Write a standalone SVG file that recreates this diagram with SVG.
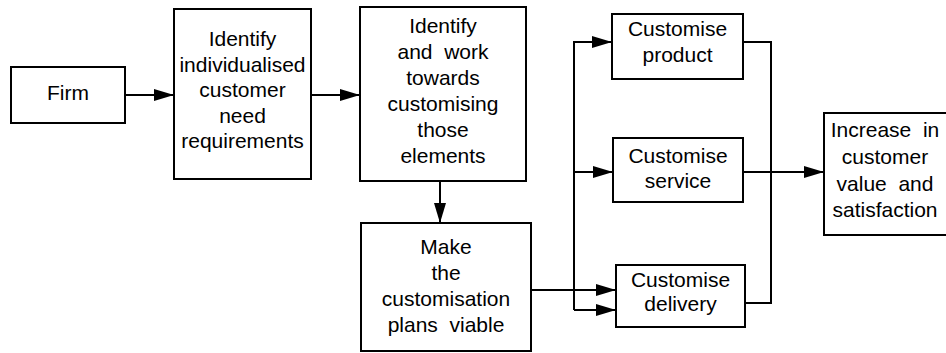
<svg xmlns="http://www.w3.org/2000/svg" width="946" height="353" viewBox="0 0 946 353">
<defs>
<style>
.box{fill:#fff;stroke:#000;stroke-width:2}
.ln{fill:none;stroke:#000;stroke-width:2}
text{font-family:"Liberation Sans",Arial,sans-serif;font-size:21px;fill:#000;text-anchor:middle}
</style>
<marker id="ah" markerUnits="userSpaceOnUse" markerWidth="20" markerHeight="12" refX="20" refY="6" orient="auto">
<path d="M0,0 L20,6 L0,12 z" fill="#000"/>
</marker>
</defs>
<rect width="946" height="353" fill="#fff"/>
<g id="connectors">
<path class="ln" d="M125,95 H174" marker-end="url(#ah)"/>
<path class="ln" d="M311,95 H360" marker-end="url(#ah)"/>
<path class="ln" d="M440,181 V223" marker-end="url(#ah)"/>
<path class="ln" d="M531,290 H616" marker-end="url(#ah)"/>
<path class="ln" d="M574,310 V42 H612" marker-end="url(#ah)"/>
<path class="ln" d="M574,172 H613" marker-end="url(#ah)"/>
<path class="ln" d="M574,310 H616" marker-end="url(#ah)"/>
<path class="ln" d="M743,42 H771 V303 H745"/>
<path class="ln" d="M743,172 H824" marker-end="url(#ah)"/>
</g>
<g id="firm">
<rect class="box" x="11" y="67" width="114" height="56"/>
<text x="68" y="100">Firm</text>
</g>
<g id="identify-needs">
<rect class="box" x="174" y="9" width="137" height="170"/>
<text x="242.5" y="46">Identify</text>
<text x="242.5" y="72">individualised</text>
<text x="242.5" y="97">customer</text>
<text x="242.5" y="123">need</text>
<text x="242.5" y="148">requirements</text>
</g>
<g id="identify-elements">
<rect class="box" x="360" y="7" width="166" height="174"/>
<text x="443" y="33">Identify</text>
<text x="443" y="59" xml:space="preserve">and  work</text>
<text x="443" y="85">towards</text>
<text x="443" y="111">customising</text>
<text x="443" y="137">those</text>
<text x="443" y="163">elements</text>
</g>
<g id="make-viable">
<rect class="box" x="361" y="223" width="170" height="128"/>
<text x="446" y="254">Make</text>
<text x="446" y="280">the</text>
<text x="446" y="306">customisation</text>
<text x="446" y="332" xml:space="preserve">plans  viable</text>
</g>
<g id="customise-product">
<rect class="box" x="612" y="14" width="131" height="65"/>
<text x="677.5" y="36">Customise</text>
<text x="677.5" y="62">product</text>
</g>
<g id="customise-service">
<rect class="box" x="613" y="138" width="130" height="64"/>
<text x="678" y="163">Customise</text>
<text x="678" y="188">service</text>
</g>
<g id="customise-delivery">
<rect class="box" x="616" y="265" width="129" height="62"/>
<text x="680.5" y="287">Customise</text>
<text x="680.5" y="311">delivery</text>
</g>
<g id="increase-value">
<path class="box" d="M946,113 H824 V235 H946"/>
<text x="885" y="137" xml:space="preserve">Increase  in</text>
<text x="885" y="164">customer</text>
<text x="885" y="191" xml:space="preserve">value  and</text>
<text x="885" y="217">satisfaction</text>
</g>
</svg>
